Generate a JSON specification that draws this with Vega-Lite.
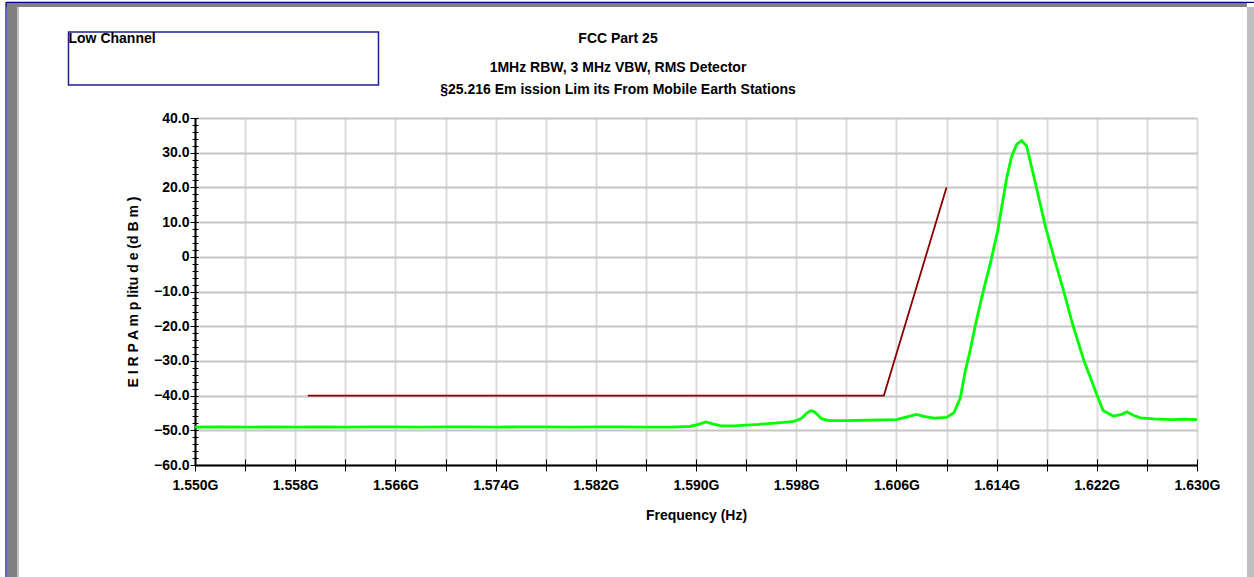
{
  "$schema": "https://vega.github.io/schema/vega-lite/v6.json",
  "width": 1002,
  "height": 347,
  "autosize": {"type": "none"},
  "padding": {"left": 195, "top": 118, "right": 57, "bottom": 112},
  "background": "white",
  "config": {"view": {"stroke": null}, "font": "Liberation Sans, Arial, sans-serif"},
  "title": {
    "text": "FCC Part 25",
    "subtitle": ["1MHz RBW, 3 MHz VBW, RMS Detector", "§25.216 Em ission Lim its From  Mobile Earth Stations"],
    "anchor": "middle",
    "frame": "group",
    "dx": -78,
    "dy": 95,
    "offset": 0,
    "fontSize": 14,
    "font": "Liberation Sans, Arial, sans-serif",
    "fontWeight": "bold",
    "color": "black",
    "lineHeight": 22,
    "subtitleFontSize": 14,
    "subtitleFont": "Liberation Sans, Arial, sans-serif",
    "subtitleFontWeight": "bold",
    "subtitleColor": "black",
    "subtitleLineHeight": 22,
    "subtitlePadding": 15
  },
  "datasets": {
    "trace": [
      {"f": 1.5500, "dbm": -49.1}, {"f": 1.5520, "dbm": -49.0}, {"f": 1.5540, "dbm": -49.1}, {"f": 1.5560, "dbm": -49.0},
      {"f": 1.5580, "dbm": -49.1}, {"f": 1.5600, "dbm": -49.0}, {"f": 1.5620, "dbm": -49.1}, {"f": 1.5640, "dbm": -49.0},
      {"f": 1.5660, "dbm": -49.0}, {"f": 1.5680, "dbm": -49.1}, {"f": 1.5700, "dbm": -49.0}, {"f": 1.5720, "dbm": -49.0},
      {"f": 1.5740, "dbm": -49.1}, {"f": 1.5760, "dbm": -49.0}, {"f": 1.5780, "dbm": -49.0}, {"f": 1.5800, "dbm": -49.1},
      {"f": 1.5820, "dbm": -49.0}, {"f": 1.5840, "dbm": -49.0}, {"f": 1.5860, "dbm": -49.1}, {"f": 1.5880, "dbm": -49.1},
      {"f": 1.5895, "dbm": -48.9}, {"f": 1.5902, "dbm": -48.3}, {"f": 1.5908, "dbm": -47.6}, {"f": 1.5914, "dbm": -48.2},
      {"f": 1.5920, "dbm": -48.7}, {"f": 1.5930, "dbm": -48.7}, {"f": 1.5940, "dbm": -48.5}, {"f": 1.5950, "dbm": -48.3},
      {"f": 1.5960, "dbm": -48.0}, {"f": 1.5970, "dbm": -47.7}, {"f": 1.5978, "dbm": -47.4}, {"f": 1.5984, "dbm": -46.6},
      {"f": 1.5989, "dbm": -44.9}, {"f": 1.5992, "dbm": -44.3}, {"f": 1.5995, "dbm": -44.8}, {"f": 1.6000, "dbm": -46.6},
      {"f": 1.6006, "dbm": -47.2}, {"f": 1.6020, "dbm": -47.2}, {"f": 1.6035, "dbm": -47.1}, {"f": 1.6049, "dbm": -47.0},
      {"f": 1.6060, "dbm": -46.9}, {"f": 1.6070, "dbm": -46.0}, {"f": 1.6076, "dbm": -45.4}, {"f": 1.6082, "dbm": -46.0},
      {"f": 1.6090, "dbm": -46.5}, {"f": 1.6100, "dbm": -46.3}, {"f": 1.6106, "dbm": -44.9}, {"f": 1.6111, "dbm": -40.7},
      {"f": 1.6115, "dbm": -33.0}, {"f": 1.6119, "dbm": -26.8}, {"f": 1.6123, "dbm": -19.8}, {"f": 1.6127, "dbm": -13.5},
      {"f": 1.6131, "dbm": -7.5}, {"f": 1.6135, "dbm": -1.9}, {"f": 1.6141, "dbm": 7.7}, {"f": 1.6148, "dbm": 22.6},
      {"f": 1.6152, "dbm": 28.9}, {"f": 1.6156, "dbm": 32.4}, {"f": 1.6160, "dbm": 33.5}, {"f": 1.6164, "dbm": 31.9}, {"f": 1.6171, "dbm": 21.2},
      {"f": 1.6179, "dbm": 8.7}, {"f": 1.6186, "dbm": -0.5}, {"f": 1.6193, "dbm": -9.2}, {"f": 1.6201, "dbm": -19.8},
      {"f": 1.6210, "dbm": -30.2}, {"f": 1.6220, "dbm": -39.7}, {"f": 1.6225, "dbm": -44.3}, {"f": 1.6233, "dbm": -45.9},
      {"f": 1.6240, "dbm": -45.4}, {"f": 1.6244, "dbm": -44.7}, {"f": 1.6250, "dbm": -45.8}, {"f": 1.6255, "dbm": -46.4},
      {"f": 1.6265, "dbm": -46.7}, {"f": 1.6280, "dbm": -46.9}, {"f": 1.6290, "dbm": -46.8}, {"f": 1.6300, "dbm": -46.9}
    ],
    "limit": [
      {"f": 1.559, "dbm": -40},
      {"f": 1.605, "dbm": -40},
      {"f": 1.610, "dbm": 20}
    ]
  },
  "resolve": {"axis": {"x": "independent", "y": "independent"}},
  "layer": [
    {
      "data": {"values": [{}]},
      "mark": {"type": "rect", "fill": "#808080", "clip": false},
      "encoding": {
        "x": {"datum": 1.53491, "type": "quantitative", "scale": {"domain": [1.55, 1.63], "nice": false, "zero": false}, "axis": null},
        "x2": {"datum": 1.63399},
        "y": {"datum": 73.14, "type": "quantitative", "scale": {"domain": [-60, 40], "nice": false, "zero": false}, "axis": null},
        "y2": {"datum": 71.99}
      }
    },
    {
      "data": {"values": [{}]},
      "mark": {"type": "rect", "fill": "#808080", "clip": false},
      "encoding": {
        "x": {"datum": 1.53499, "type": "quantitative", "scale": {"domain": [1.55, 1.63], "nice": false, "zero": false}, "axis": null},
        "x2": {"datum": 1.53583},
        "y": {"datum": 73.14, "type": "quantitative", "scale": {"domain": [-60, 40], "nice": false, "zero": false}, "axis": null},
        "y2": {"datum": -92.3}
      }
    },
    {
      "data": {"values": [{}]},
      "mark": {"type": "rect", "fill": "#c0c0c0", "clip": false},
      "encoding": {
        "x": {"datum": 1.53583, "type": "quantitative", "scale": {"domain": [1.55, 1.63], "nice": false, "zero": false}, "axis": null},
        "x2": {"datum": 1.53595},
        "y": {"datum": 71.99, "type": "quantitative", "scale": {"domain": [-60, 40], "nice": false, "zero": false}, "axis": null},
        "y2": {"datum": -92.3}
      }
    },
    {
      "data": {"values": [{}]},
      "mark": {"type": "rect", "fill": "#c0c0c0", "clip": false},
      "encoding": {
        "x": {"datum": 1.63399, "type": "quantitative", "scale": {"domain": [1.55, 1.63], "nice": false, "zero": false}, "axis": null},
        "x2": {"datum": 1.63465},
        "y": {"datum": 72.0, "type": "quantitative", "scale": {"domain": [-60, 40], "nice": false, "zero": false}, "axis": null},
        "y2": {"datum": -92.3}
      }
    },
    {
      "data": {"values": [{}]},
      "mark": {"type": "rule", "stroke": "#000080", "strokeWidth": 1.2, "clip": false},
      "encoding": {
        "x": {"datum": 1.53491, "type": "quantitative", "scale": {"domain": [1.55, 1.63], "nice": false, "zero": false}, "axis": null},
        "x2": {"datum": 1.63465},
        "y": {"datum": 73.35, "type": "quantitative", "scale": {"domain": [-60, 40], "nice": false, "zero": false}, "axis": null}
      }
    },
    {
      "data": {"values": [{}]},
      "mark": {"type": "rule", "stroke": "#000080", "strokeWidth": 1.2, "clip": false},
      "encoding": {
        "x": {"datum": 1.53491, "type": "quantitative", "scale": {"domain": [1.55, 1.63], "nice": false, "zero": false}, "axis": null},
        "y": {"datum": 73.35, "type": "quantitative", "scale": {"domain": [-60, 40], "nice": false, "zero": false}, "axis": null},
        "y2": {"datum": -92.3}
      }
    },
    {
      "data": {"values": [{}]},
      "mark": {"type": "rect", "fill": "white", "stroke": "#1f1f8f", "strokeWidth": 1.5, "clip": false},
      "encoding": {
        "x": {"datum": 1.5399, "type": "quantitative", "scale": {"domain": [1.55, 1.63], "nice": false, "zero": false}, "axis": null},
        "x2": {"datum": 1.56465},
        "y": {"datum": 64.8, "type": "quantitative", "scale": {"domain": [-60, 40], "nice": false, "zero": false}, "axis": null},
        "y2": {"datum": 49.5}
      }
    },
    {
      "data": {"values": [{}]},
      "mark": {"type": "text", "text": "Low Channel", "align": "left", "baseline": "alphabetic", "fontSize": 14, "fontWeight": "bold", "font": "Liberation Sans, Arial, sans-serif", "color": "black", "clip": false},
      "encoding": {
        "x": {"datum": 1.5399, "type": "quantitative", "scale": {"domain": [1.55, 1.63], "nice": false, "zero": false}, "axis": null},
        "y": {"datum": 61.5, "type": "quantitative", "scale": {"domain": [-60, 40], "nice": false, "zero": false}, "axis": null}
      }
    },
    {
      "data": {"name": "limit"},
      "mark": {"type": "line", "color": "#8b0000", "strokeWidth": 1.8},
      "encoding": {
        "x": {
          "field": "f", "type": "quantitative",
          "scale": {"domain": [1.55, 1.63], "nice": false, "zero": false},
          "axis": {
            "orient": "bottom",
            "values": [1.55, 1.554, 1.558, 1.562, 1.566, 1.57, 1.574, 1.578, 1.582, 1.586, 1.59, 1.594, 1.598, 1.602, 1.606, 1.61, 1.614, 1.618, 1.622, 1.626, 1.63],
            "offset": -6, "tickSize": 6, "tickColor": "black", "tickWidth": 1,
            "labels": false, "domain": false, "grid": false, "title": null
          }
        },
        "y": {
          "field": "dbm", "type": "quantitative",
          "scale": {"domain": [-60, 40], "nice": false, "zero": false},
          "axis": {
            "orient": "left",
            "values": [-60, -58, -56, -54, -52, -50, -48, -46, -44, -42, -40, -38, -36, -34, -32, -30, -28, -26, -24, -22, -20, -18, -16, -14, -12, -10, -8, -6, -4, -2, 0, 2, 4, 6, 8, 10, 12, 14, 16, 18, 20, 22, 24, 26, 28, 30, 32, 34, 36, 38, 40],
            "offset": -3, "tickSize": 6, "tickColor": "black", "tickWidth": 1,
            "labels": false, "domain": false, "grid": false, "title": null
          }
        }
      }
    },
    {
      "data": {"name": "trace"},
      "mark": {"type": "line", "color": "#00ff00", "strokeWidth": 2.8},
      "encoding": {
        "x": {
          "field": "f", "type": "quantitative",
          "scale": {"domain": [1.55, 1.63], "nice": false, "zero": false},
          "axis": {
            "orient": "bottom",
            "values": [1.55, 1.554, 1.558, 1.562, 1.566, 1.57, 1.574, 1.578, 1.582, 1.586, 1.59, 1.594, 1.598, 1.602, 1.606, 1.61, 1.614, 1.618, 1.622, 1.626, 1.63],
            "labelExpr": "(round(datum.value*1000) - 1550) % 8 == 0 ? format(datum.value, '.3f') + 'G' : ''",
            "grid": true, "gridColor": "#dcdcdc", "gridWidth": 2,
            "tickSize": 6, "tickColor": "black", "tickWidth": 1,
            "domainColor": "black", "domainWidth": 2,
            "labelFont": "Liberation Sans, Arial, sans-serif", "labelFontSize": 14, "labelFontWeight": "bold", "labelColor": "black",
            "labelPadding": 7, "labelOverlap": false, "labelFlush": false,
            "title": "Frequency (Hz)",
            "titleFont": "Liberation Sans, Arial, sans-serif", "titleFontSize": 14, "titleFontWeight": "bold", "titleColor": "black",
            "titlePadding": 16
          }
        },
        "y": {
          "field": "dbm", "type": "quantitative",
          "scale": {"domain": [-60, 40], "nice": false, "zero": false},
          "axis": {
            "orient": "left",
            "values": [-60, -50, -40, -30, -20, -10, 0, 10, 20, 30, 40],
            "labelExpr": "datum.value == 0 ? '0' : format(datum.value, '.1f')",
            "grid": true, "gridColor": "#c6c6c6", "gridWidth": 2,
            "tickSize": 5, "tickColor": "black", "tickWidth": 1,
            "domainColor": "black", "domainWidth": 2,
            "labelFont": "Liberation Sans, Arial, sans-serif", "labelFontSize": 14, "labelFontWeight": "bold", "labelColor": "black",
            "labelPadding": 1, "labelOverlap": false,
            "title": "E I R P  A m p litu d e  (d B m )",
            "titleFont": "Liberation Sans, Arial, sans-serif", "titleFontSize": 14, "titleFontWeight": "bold", "titleColor": "black",
            "titlePadding": 13
          }
        }
      }
    }
  ]
}
